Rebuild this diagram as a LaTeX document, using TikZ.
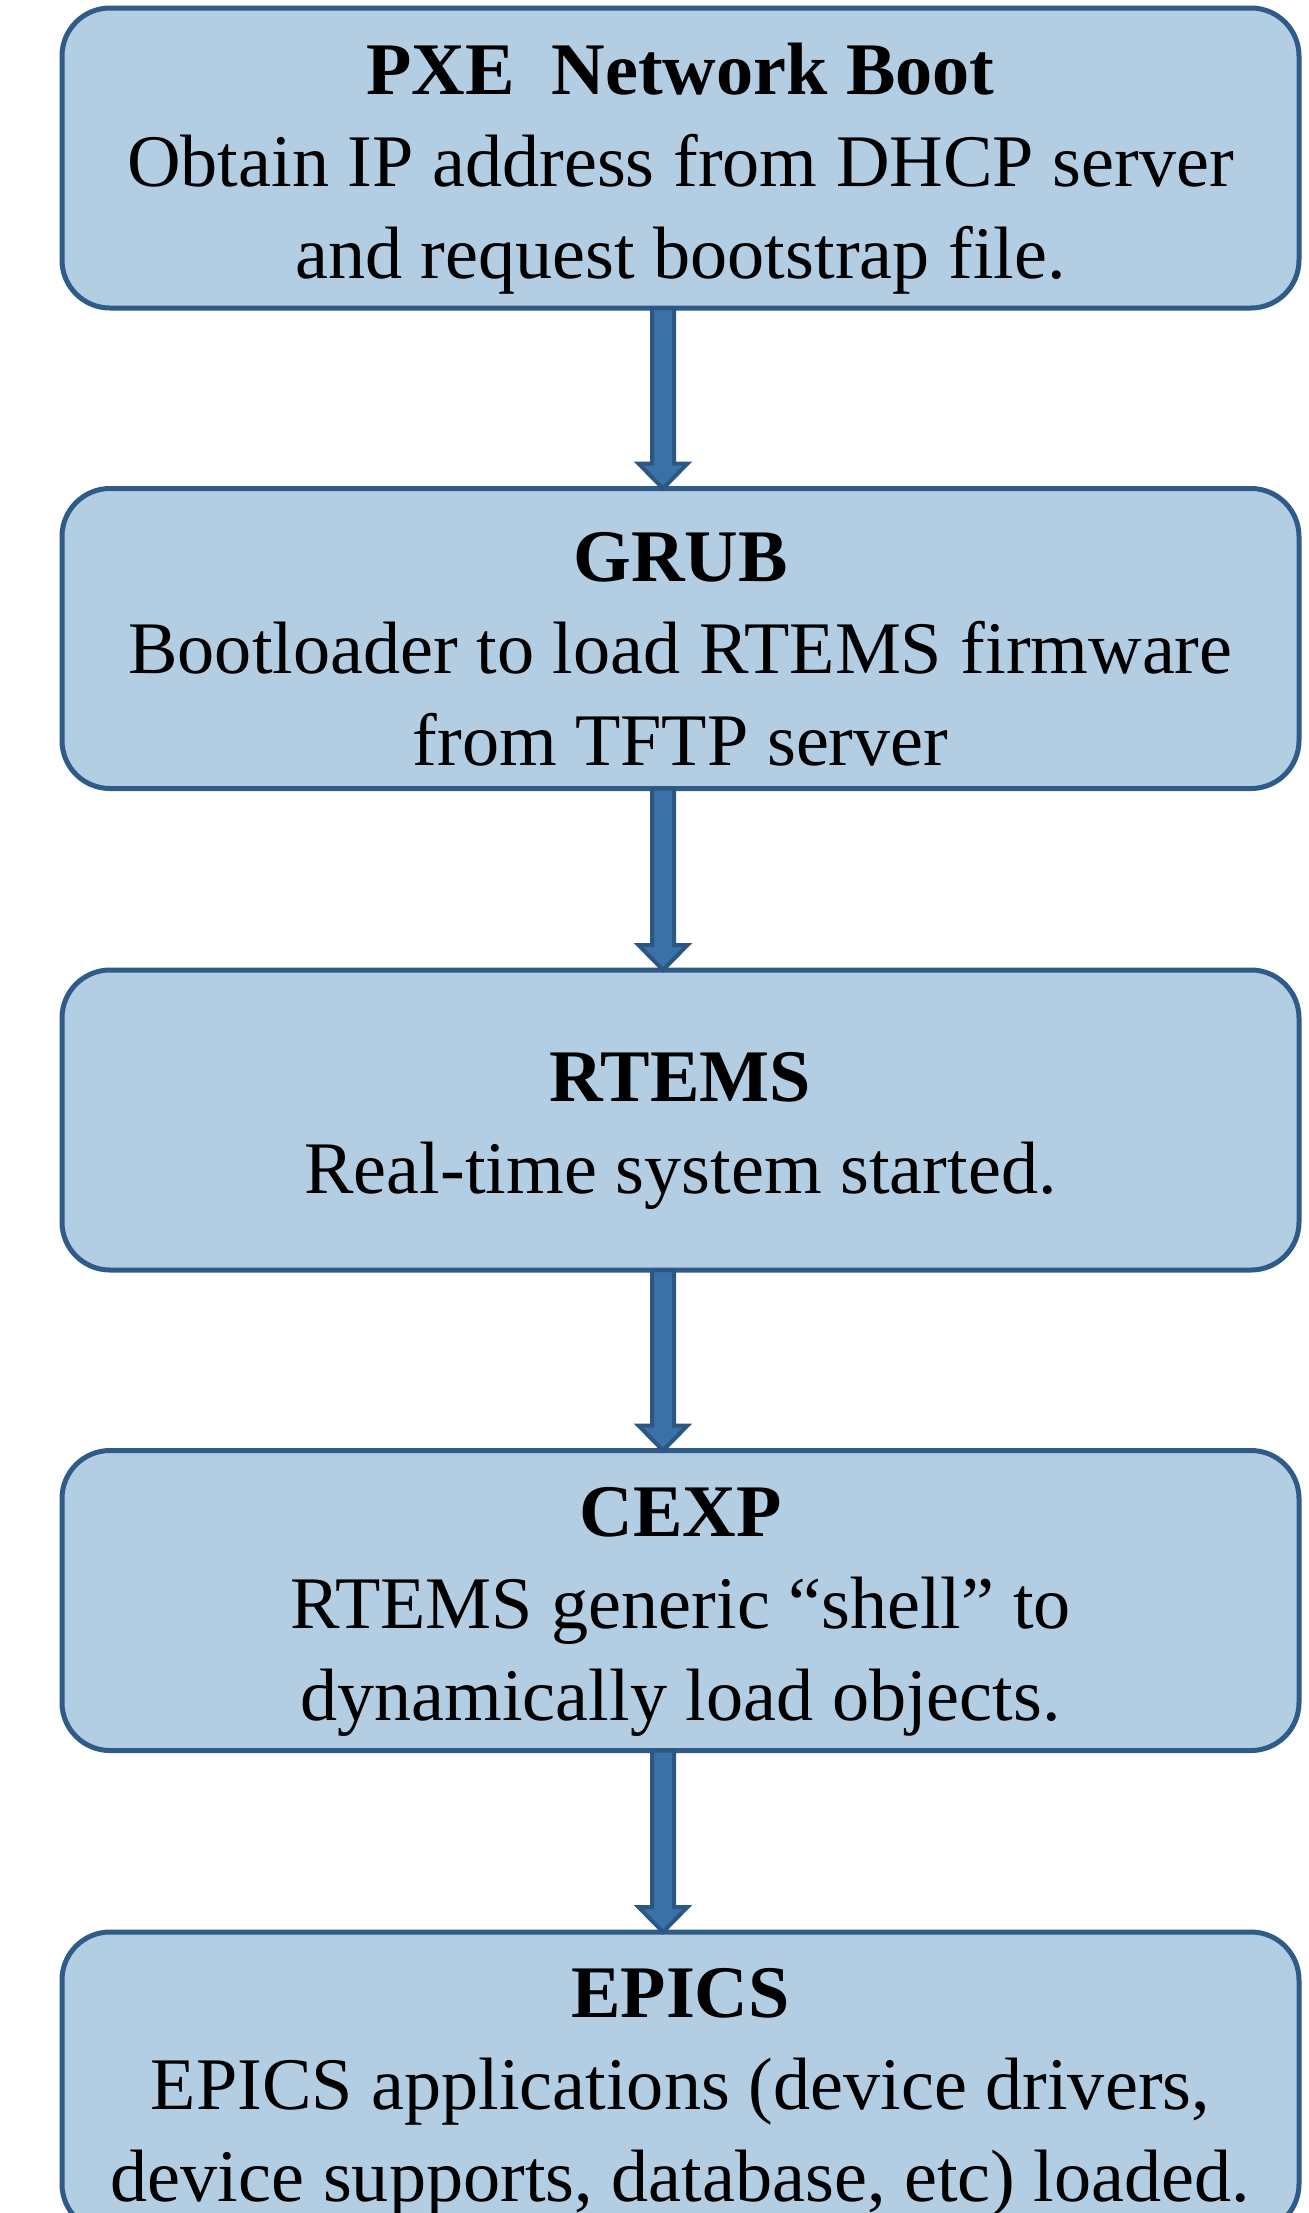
\documentclass[tikz,border=0pt]{standalone}
\usepackage{fontspec}
\setmainfont{Liberation Serif}
\usetikzlibrary{calc}
\definecolor{boxfill}{HTML}{B3CDE3}
\definecolor{boxline}{HTML}{2E5B87}
\definecolor{arrfill}{HTML}{3A71A7}
\definecolor{arrline}{HTML}{2C5782}
\tikzset{
  stagebox/.style={draw=boxline, fill=boxfill, line width=2.5pt, rounded corners=24pt,
    minimum width=618.5pt, minimum height=150pt, inner sep=0pt, outer sep=0pt},
  stagetext/.style={inner sep=0pt, align=center, font=\fontsize{37.1}{46}\selectfont},
  fatarrow/.style={fill=arrfill, draw=arrline, line width=2pt, line join=miter}
}
\newcommand{\fatarr}[2]{%
  \filldraw[fatarrow] ($(#1.south)+(-28.5,0)$) -- ($(#2.north)+(-28.5,-25)$)
    -- ($(#2.north)+(-42,-25)$) -- ($(#2.north)+(-17.5,0)$)
    -- ($(#2.north)+(7,-25)$) -- ($(#2.north)+(-6.5,-25)$)
    -- ($(#1.south)+(-6.5,0)$) -- cycle;}
\begin{document}
\begin{tikzpicture}[x=0.5pt,y=-0.5pt]
\useasboundingbox (0,0) rectangle (1308,2213);
\clip (0,0) rectangle (1308,2213);
\fill[white] (0,0) rectangle (1308,2213);
\node[stagebox] (b1) at (680.5,158) {};
\node[stagebox] (b2) at (680.5,638.5) {};
\node[stagebox] (b3) at (680.5,1120) {};
\node[stagebox] (b4) at (680.5,1600.5) {};
\node[stagebox] (b5) at (680.5,2082) {};
\node[stagetext] (t1) at ($(b1.center)+(0,11)$) {\textbf{PXE\ \ Network Boot}\\Obtain IP address from DHCP server\\and request bootstrap file.};
\node[stagetext] (t2) at ($(b2.center)+(0,11)$) {\textbf{GRUB}\\Bootloader to load RTEMS firmware\\from TFTP server};
\node[stagetext] (t3) at ($(b3.center)+(0,11)$) {\textbf{RTEMS}\\Real-time system started.};
\node[stagetext] (t4) at ($(b4.center)+(0,11)$) {\textbf{CEXP}\\RTEMS generic “shell” to\\dynamically load objects.};
\node[stagetext] (t5) at ($(b5.center)+(0,11)$) {\textbf{EPICS}\\EPICS applications (device drivers,\\device supports, database, etc) loaded.};
\fatarr{b1}{b2}
\fatarr{b2}{b3}
\fatarr{b3}{b4}
\fatarr{b4}{b5}
\end{tikzpicture}
\end{document}
